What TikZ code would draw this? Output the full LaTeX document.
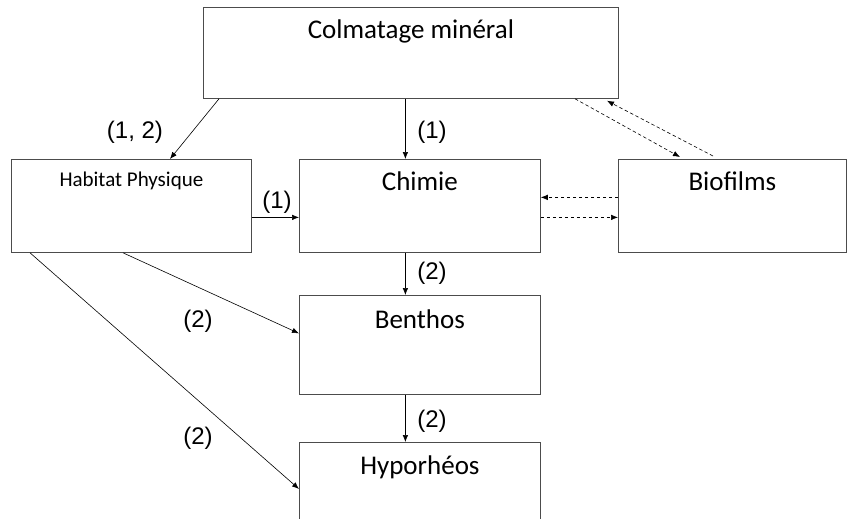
\documentclass[tikz,border=0pt]{standalone}
\usepackage{fontspec}
\setmainfont{Liberation Sans}
\newfontfamily\calibri{Carlito}
\usetikzlibrary{arrows.meta, calc, positioning}

\begin{document}
\begin{tikzpicture}[x=1pt, y=-1pt, >={Latex[length=7pt,width=5.5pt]},
  boite/.style={draw=black!70, line width=0.8pt, inner sep=0pt, anchor=north west,
    font=\calibri\fontsize{27}{30}\selectfont},
  lien/.style={->, line width=0.6pt},
  lienpt/.style={->, line width=0.6pt, dash pattern=on 3.5pt off 2.5pt},
  etiq/.style={font=\fontsize{24}{28}\selectfont, inner sep=0pt}]
  \useasboundingbox (0,0) rectangle (847,519);
  \node[boite, minimum width=415pt, text height=31pt, text depth=60pt]
  (colm) at (203,7) {Colmatage min\'eral};
  \node[boite, minimum width=240pt, text height=27pt, text depth=66pt,
  font=\calibri\fontsize{21}{24}\selectfont] (habitat) at (11,159) {Habitat Physique};
  \node[boite, minimum width=241pt, text height=31pt, text depth=62pt]
  (chimie) at (299,159) {Chimie};
  \node[boite, minimum width=228pt, text height=31pt, text depth=62pt]
  (biofilms) at (618,159) {Biofilms};
  \node[boite, minimum width=241pt, text height=33pt, text depth=66pt]
  (benthos) at (299,295) {Benthos};
  \node[boite, minimum width=241pt, text height=32pt, text depth=66pt]
  (hypo) at (299,442) {Hyporh\'eos};
  \draw[lien]([xshift=16pt]colm.south west)--([xshift=159pt]habitat.north west);
  \draw[lien]([xshift=-5.5pt]colm.south)--([xshift=-14.5pt]chimie.north);
  \draw[lien]([yshift=-11.5pt]habitat.east)--([yshift=-11.5pt]chimie.west);
  \draw[lien]([xshift=-14.5pt]chimie.south)--([xshift=-14.5pt]benthos.north);
  \draw[lien]([xshift=-14.5pt]benthos.south)--([xshift=-14.5pt]hypo.north);
  \draw[lien]([xshift=112pt]habitat.south west)--([yshift=11.5pt]benthos.west);
  \draw[lien]([xshift=19pt]habitat.south west)--([yshift=-47pt]hypo.north west);
  \draw[lienpt]([xshift=372pt]colm.south west)--([xshift=62pt,yshift=2pt]biofilms.north west);
  \draw[lienpt]([xshift=95pt,yshift=3pt]biofilms.north west)--([xshift=404pt,yshift=-2pt]colm.south west);
  \draw[lienpt]([yshift=8.5pt]biofilms.west)--([yshift=8.5pt]chimie.east);
  \draw[lienpt]([yshift=-11.5pt]chimie.east)--([yshift=-11.5pt]biofilms.west);
  \node[etiq](e12) at (135,132) {(1, 2)};
  \node[etiq](e1a) at (432,132) {(1)};
  \node[etiq](e1b) at (277,202) {(1)};
  \node[etiq](e2a) at (432,273) {(2)};
  \node[etiq](e2b) at (432,421) {(2)};
  \node[etiq](e2c) at (198,321) {(2)};
  \node[etiq](e2d) at (198,438) {(2)};
\end{tikzpicture}
\end{document}
